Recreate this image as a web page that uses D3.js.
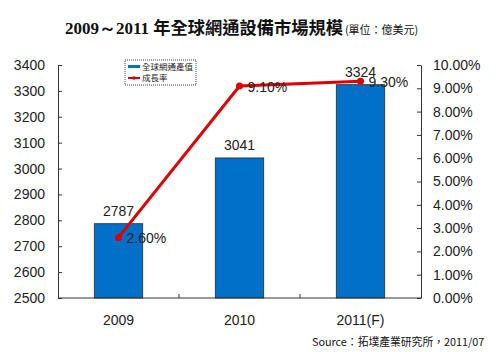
<!DOCTYPE html>
<html>
<head>
<meta charset="utf-8">
<script src="https://cdn.jsdelivr.net/npm/d3@7"></script>
<style>
body { margin: 0; background: #fff; }
text { font-family: "Liberation Sans", Arial, sans-serif; }
</style>
</head>
<body>
<script>
const years = ["2009", "2010", "2011(F)"];
const output = [2787, 3041, 3324];
const growth = [2.60, 9.10, 9.30];
const leftTicks = [2500, 2600, 2700, 2800, 2900, 3000, 3100, 3200, 3300, 3400];
const rightTicks = [0, 1, 2, 3, 4, 5, 6, 7, 8, 9, 10];

const width = 500, height = 352;
const margin = {top: 65, right: 79, bottom: 54, left: 58};
const w = width - margin.left - margin.right,
    h = height - margin.top - margin.bottom;

const svg = d3.select("body").append("svg")
    .attr("width", width)
    .attr("height", height);

// title
const title = svg.append("text")
    .attr("x", 65)
    .attr("y", 34)
    .style("font-weight", "bold")
    .style("fill", "#111");
const t1 = title.append("tspan")
    .style("font-family", "'Liberation Serif', serif")
    .style("font-size", "17px")
    .text("2009～2011 ");
const t2 = title.append("tspan")
    .style("font-family", "'Noto Sans CJK TC', sans-serif")
    .style("font-size", "16.5px")
    .text("年全球網通設備市場規模");
title.append("tspan")
    .attr("dx", 2)
    .style("font-family", "'Noto Sans CJK TC', sans-serif")
    .style("font-size", "11px")
    .style("font-weight", "normal")
    .text("(單位：億美元)");

// stretch the main title to the width it has in the picture
const mainLen = t1.node().getComputedTextLength() + t2.node().getComputedTextLength();
if (mainLen > 0) {
    const cjkLen = t2.node().getComputedTextLength();
    const want = 278 - t1.node().getComputedTextLength();
    t2.style("font-size", (16.5 * want / cjkLen).toFixed(2) + "px");
}

const g = svg.append("g")
    .attr("transform", "translate(" + margin.left + "," + margin.top + ")");

var x = d3.scaleBand()
    .range([0, w])
    .domain(years)
    .paddingInner(0.6)
    .paddingOuter(0.3);
var xBand = d3.scaleBand()
    .range([0, w])
    .domain(years);
var y = d3.scaleLinear()
    .domain([2500, 3400])
    .range([h, 0]);
var y2 = d3.scaleLinear()
    .domain([0, 10])
    .range([h, 0]);

// bars
g.selectAll(".bar")
    .data(output)
    .enter()
    .append("rect")
    .attr("class", "bar")
    .attr("x", (d, i) => x(years[i]))
    .attr("width", x.bandwidth())
    .attr("y", d => y(d))
    .attr("height", d => h - y(d))
    .attr("fill", "#0070c8")
    .attr("stroke", "#2a2a2a")
    .attr("stroke-width", 0.8);

g.selectAll(".barlabel")
    .data(output)
    .enter()
    .append("text")
    .attr("x", (d, i) => x(years[i]) + x.bandwidth() / 2)
    .attr("y", d => y(d) - 8)
    .style("text-anchor", "middle")
    .style("font-size", "14px")
    .style("fill", "#222")
    .text(d => d);

// axes
var yAxis = d3.axisLeft(y).tickValues(leftTicks).tickSizeInner(-4).tickSizeOuter(0).tickPadding(13)
    .tickFormat(d3.format("d"));
var y2Axis = d3.axisRight(y2).tickValues(rightTicks).tickSizeInner(-4).tickSizeOuter(0).tickPadding(12)
    .tickFormat(d => d.toFixed(2) + "%");

g.append("g").attr("class", "axis").call(yAxis);
g.append("g").attr("class", "axis")
    .attr("transform", "translate(" + w + ",0)")
    .call(y2Axis);

var xAxis = g.append("g").attr("class", "axis")
    .attr("transform", "translate(0," + h + ")");
xAxis.append("line")
    .attr("x1", 0).attr("x2", w);
xAxis.selectAll(".xt")
    .data(years.slice(1))
    .enter()
    .append("line")
    .attr("x1", d => xBand(d)).attr("x2", d => xBand(d))
    .attr("y1", 0).attr("y2", -4);
xAxis.selectAll(".xl")
    .data(years)
    .enter()
    .append("text")
    .attr("x", d => xBand(d) + xBand.bandwidth() / 2)
    .attr("y", 27)
    .style("text-anchor", "middle")
    .style("font-size", "14px")
    .style("fill", "#222")
    .text(d => d);

g.selectAll(".axis path, .axis line").attr("stroke", "#333");
g.selectAll(".axis .tick text").style("font-size", "14px").style("fill", "#222")
    .style("font-family", "'Liberation Sans', Arial, sans-serif");

// growth line
var line = d3.line()
    .x((d, i) => xBand(years[i]) + xBand.bandwidth() / 2)
    .y(d => y2(d));

g.append("path")
    .datum(growth)
    .attr("fill", "none")
    .attr("stroke", "#dd0000")
    .attr("stroke-width", 3)
    .attr("d", line);

g.selectAll(".dot")
    .data(growth)
    .enter()
    .append("circle")
    .attr("cx", (d, i) => xBand(years[i]) + xBand.bandwidth() / 2)
    .attr("cy", d => y2(d))
    .attr("r", 3.5)
    .attr("fill", "#dd0000");

g.selectAll(".pctlabel")
    .data(growth)
    .enter()
    .append("text")
    .attr("x", (d, i) => xBand(years[i]) + xBand.bandwidth() / 2 + 8)
    .attr("y", d => y2(d) + 6)
    .style("font-size", "14px")
    .style("fill", "#222")
    .text(d => d.toFixed(2) + "%");

// legend
const leg = svg.append("g").attr("transform", "translate(125,60)");
leg.append("rect")
    .attr("width", 71).attr("height", 25)
    .attr("fill", "#fff")
    .attr("stroke", "#444")
    .attr("stroke-dasharray", "1,1");
leg.append("rect")
    .attr("x", 3).attr("y", 5).attr("width", 12).attr("height", 3)
    .attr("fill", "#0070c8");
leg.append("line")
    .attr("x1", 3).attr("x2", 15).attr("y1", 18).attr("y2", 18)
    .attr("stroke", "#dd0000").attr("stroke-width", 2);
leg.append("circle")
    .attr("cx", 9).attr("cy", 18).attr("r", 1.8).attr("fill", "#dd0000");
leg.append("text")
    .attr("x", 17).attr("y", 10)
    .style("font-family", "'Noto Sans CJK TC', sans-serif")
    .style("font-size", "8.5px")
    .style("fill", "#222")
    .text("全球網通產值");
leg.append("text")
    .attr("x", 17).attr("y", 21)
    .style("font-family", "'Noto Sans CJK TC', sans-serif")
    .style("font-size", "8.5px")
    .style("fill", "#222")
    .text("成長率");

// source
svg.append("text")
    .attr("x", 312)
    .attr("y", 346)
    .style("font-family", "'Noto Sans CJK TC', sans-serif")
    .style("font-size", "10.8px")
    .style("fill", "#111")
    .text("Source：拓墣產業研究所，2011/07");
</script>
</body>
</html>
